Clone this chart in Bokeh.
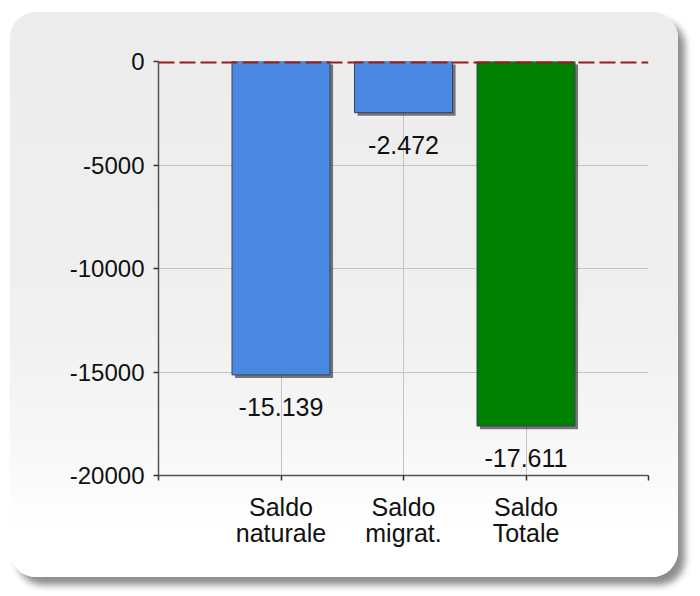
from bokeh.plotting import figure
from bokeh.models import Range1d, FixedTicker, Span, ColumnDataSource
from bokeh.transform import dodge
from bokeh.core.properties import value
from bokeh.embed import file_html
from bokeh.resources import INLINE

categories = ["Saldo\nnaturale", "Saldo\nmigrat.", "Saldo\nTotale"]
values = [-15139, -2472, -17611]
value_labels = ["-15.139", "-2.472", "-17.611"]
bar_colors = ["#4a88e2", "#4a88e2", "#008000"]
y_ticks = [-20000, -15000, -10000, -5000, 0]
y_tick_labels = ["-20000", "-15000", "-10000", "-5000", "0"]

xs = list(range(1, len(categories) + 1))
src = ColumnDataSource(dict(x=xs, v=values, lab=value_labels, c=bar_colors))

FONT = "Liberation Sans"

p = figure(width=668, height=565, output_backend="svg", toolbar_location=None,
           x_range=Range1d(0, len(categories) + 1), y_range=Range1d(-20000, 0),
           min_border_left=148, min_border_right=30, min_border_top=49, min_border_bottom=102)
p.margin = (12, 0, 0, 10)
p.styles = {
    "border-radius": "26px",
    "background": "linear-gradient(#ececec 0%, #f0f0f0 55%, #f8f8f8 78%, #ffffff 92%)",
    "box-shadow": "7px 8px 7px rgba(0,0,0,0.45)",
}
p.border_fill_color = None
p.background_fill_color = None
p.outline_line_color = None

# grid
p.xgrid.ticker = FixedTicker(ticks=xs + [len(categories) + 1])
p.xgrid.grid_line_color = "#c4c4c4"
p.ygrid.ticker = FixedTicker(ticks=y_ticks)
p.ygrid.grid_line_color = "#c4c4c4"

# shadows
p.vbar(x=dodge("x", 0.025), width=0.8, top=-150, bottom=dodge("v", -150), source=src,
       fill_color="#222222", fill_alpha=0.6, line_color=None)
p.vbar(x="x", width=0.8, top=0, bottom="v", source=src,
       fill_color="c", line_color="#34445a", line_width=1)

p.text(x="x", y="v", text="lab", source=src, text_align="center", text_baseline="top",
       y_offset=23, text_font=value(FONT), text_font_size="25px", text_color="#111111")

p.add_layout(Span(location=0, dimension="width", line_color="#9b1a1a", line_width=4,
                  line_dash="16 5"))

p.xaxis.ticker = FixedTicker(ticks=[0] + xs + [len(categories) + 1])
p.xaxis.major_label_overrides = {i: c for i, c in zip(xs, categories)} | {0: "", len(categories) + 1: ""}
p.yaxis.ticker = FixedTicker(ticks=y_ticks)
p.yaxis.major_label_overrides = {t: l for t, l in zip(y_ticks, y_tick_labels)}
for ax in (p.xaxis, p.yaxis):
    ax.axis_line_color = "#555555"
    ax.axis_line_width = 1.5
    ax.major_tick_line_color = "#333333"
    ax.major_tick_line_width = 1.5
    ax.major_tick_out = 5
    ax.major_tick_in = 0
    ax.minor_tick_line_color = None
    ax.major_label_text_font = FONT
    ax.major_label_text_color = "#111111"
p.xaxis.major_label_text_font_size = "25px"
p.xaxis.major_label_text_line_height = 0.95
p.xaxis.major_label_standoff = 12
p.yaxis.major_label_text_font_size = "24px"
p.yaxis.major_label_standoff = 9

open("out.html", "w").write(file_html(p, INLINE))
